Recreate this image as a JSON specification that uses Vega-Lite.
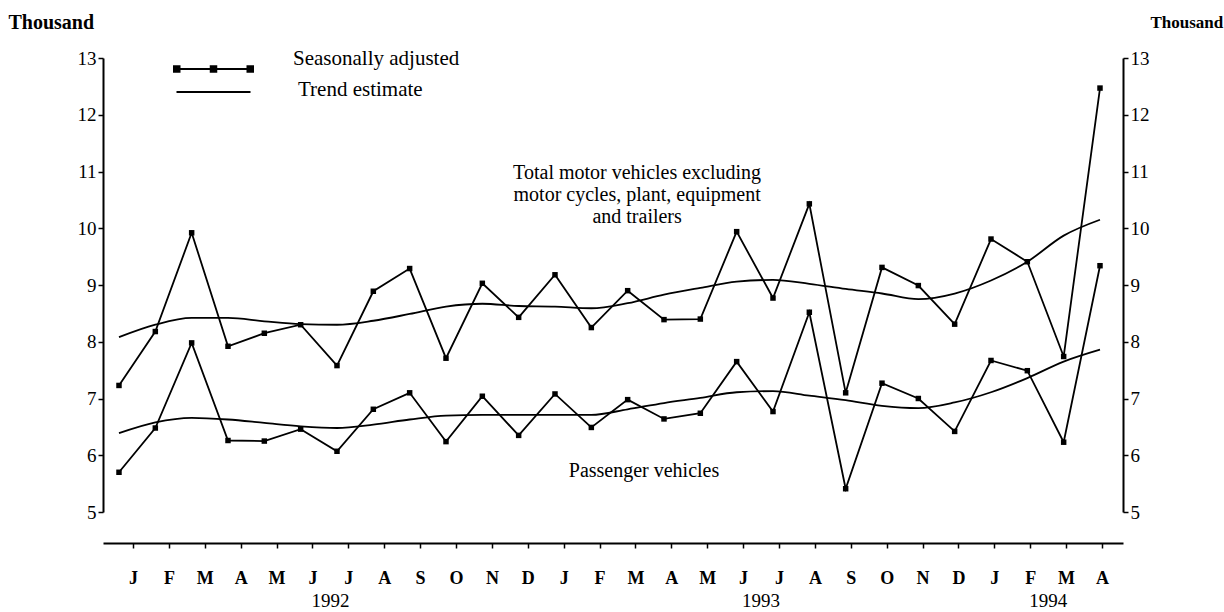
{
  "$schema": "https://vega.github.io/schema/vega-lite/v6.json",
  "width": 1020,
  "height": 454,
  "autosize": {"type": "none"},
  "padding": {"left": 103, "top": 58, "right": 101, "bottom": 100},
  "background": "white",
  "config": {
    "view": {"stroke": null},
    "font": "Liberation Serif",
    "axis": {"domainColor": "black", "tickColor": "black", "labelColor": "black", "titleColor": "black", "grid": false, "labelFont": "Liberation Serif", "titleFont": "Liberation Serif"},
    "legend": {"labelColor": "black", "labelFont": "Liberation Serif"}
  },
  "datasets": {
    "vehicles": [
      {"i":0,"date":"1992-01","series":"Total","measure":"Seasonally adjusted","value":7.23},
      {"i":1,"date":"1992-02","series":"Total","measure":"Seasonally adjusted","value":8.18},
      {"i":2,"date":"1992-03","series":"Total","measure":"Seasonally adjusted","value":9.92},
      {"i":3,"date":"1992-04","series":"Total","measure":"Seasonally adjusted","value":7.92},
      {"i":4,"date":"1992-05","series":"Total","measure":"Seasonally adjusted","value":8.15},
      {"i":5,"date":"1992-06","series":"Total","measure":"Seasonally adjusted","value":8.30},
      {"i":6,"date":"1992-07","series":"Total","measure":"Seasonally adjusted","value":7.58},
      {"i":7,"date":"1992-08","series":"Total","measure":"Seasonally adjusted","value":8.89},
      {"i":8,"date":"1992-09","series":"Total","measure":"Seasonally adjusted","value":9.29},
      {"i":9,"date":"1992-10","series":"Total","measure":"Seasonally adjusted","value":7.71},
      {"i":10,"date":"1992-11","series":"Total","measure":"Seasonally adjusted","value":9.03},
      {"i":11,"date":"1992-12","series":"Total","measure":"Seasonally adjusted","value":8.43},
      {"i":12,"date":"1993-01","series":"Total","measure":"Seasonally adjusted","value":9.18},
      {"i":13,"date":"1993-02","series":"Total","measure":"Seasonally adjusted","value":8.25},
      {"i":14,"date":"1993-03","series":"Total","measure":"Seasonally adjusted","value":8.90},
      {"i":15,"date":"1993-04","series":"Total","measure":"Seasonally adjusted","value":8.39},
      {"i":16,"date":"1993-05","series":"Total","measure":"Seasonally adjusted","value":8.40},
      {"i":17,"date":"1993-06","series":"Total","measure":"Seasonally adjusted","value":9.94},
      {"i":18,"date":"1993-07","series":"Total","measure":"Seasonally adjusted","value":8.77},
      {"i":19,"date":"1993-08","series":"Total","measure":"Seasonally adjusted","value":10.43},
      {"i":20,"date":"1993-09","series":"Total","measure":"Seasonally adjusted","value":7.10},
      {"i":21,"date":"1993-10","series":"Total","measure":"Seasonally adjusted","value":9.31},
      {"i":22,"date":"1993-11","series":"Total","measure":"Seasonally adjusted","value":8.99},
      {"i":23,"date":"1993-12","series":"Total","measure":"Seasonally adjusted","value":8.31},
      {"i":24,"date":"1994-01","series":"Total","measure":"Seasonally adjusted","value":9.81},
      {"i":25,"date":"1994-02","series":"Total","measure":"Seasonally adjusted","value":9.41},
      {"i":26,"date":"1994-03","series":"Total","measure":"Seasonally adjusted","value":7.74},
      {"i":27,"date":"1994-04","series":"Total","measure":"Seasonally adjusted","value":12.47},
      {"i":0,"date":"1992-01","series":"Total","measure":"Trend estimate","value":8.08},
      {"i":1,"date":"1992-02","series":"Total","measure":"Trend estimate","value":8.30},
      {"i":2,"date":"1992-03","series":"Total","measure":"Trend estimate","value":8.42},
      {"i":3,"date":"1992-04","series":"Total","measure":"Trend estimate","value":8.42},
      {"i":4,"date":"1992-05","series":"Total","measure":"Trend estimate","value":8.36},
      {"i":5,"date":"1992-06","series":"Total","measure":"Trend estimate","value":8.31},
      {"i":6,"date":"1992-07","series":"Total","measure":"Trend estimate","value":8.30},
      {"i":7,"date":"1992-08","series":"Total","measure":"Trend estimate","value":8.37},
      {"i":8,"date":"1992-09","series":"Total","measure":"Trend estimate","value":8.49},
      {"i":9,"date":"1992-10","series":"Total","measure":"Trend estimate","value":8.62},
      {"i":10,"date":"1992-11","series":"Total","measure":"Trend estimate","value":8.67},
      {"i":11,"date":"1992-12","series":"Total","measure":"Trend estimate","value":8.63},
      {"i":12,"date":"1993-01","series":"Total","measure":"Trend estimate","value":8.62},
      {"i":13,"date":"1993-02","series":"Total","measure":"Trend estimate","value":8.59},
      {"i":14,"date":"1993-03","series":"Total","measure":"Trend estimate","value":8.68},
      {"i":15,"date":"1993-04","series":"Total","measure":"Trend estimate","value":8.83},
      {"i":16,"date":"1993-05","series":"Total","measure":"Trend estimate","value":8.95},
      {"i":17,"date":"1993-06","series":"Total","measure":"Trend estimate","value":9.06},
      {"i":18,"date":"1993-07","series":"Total","measure":"Trend estimate","value":9.09},
      {"i":19,"date":"1993-08","series":"Total","measure":"Trend estimate","value":9.02},
      {"i":20,"date":"1993-09","series":"Total","measure":"Trend estimate","value":8.93},
      {"i":21,"date":"1993-10","series":"Total","measure":"Trend estimate","value":8.85},
      {"i":22,"date":"1993-11","series":"Total","measure":"Trend estimate","value":8.75},
      {"i":23,"date":"1993-12","series":"Total","measure":"Trend estimate","value":8.85},
      {"i":24,"date":"1994-01","series":"Total","measure":"Trend estimate","value":9.08},
      {"i":25,"date":"1994-02","series":"Total","measure":"Trend estimate","value":9.41},
      {"i":26,"date":"1994-03","series":"Total","measure":"Trend estimate","value":9.87},
      {"i":27,"date":"1994-04","series":"Total","measure":"Trend estimate","value":10.15},
      {"i":0,"date":"1992-01","series":"Passenger","measure":"Seasonally adjusted","value":5.70},
      {"i":1,"date":"1992-02","series":"Passenger","measure":"Seasonally adjusted","value":6.48},
      {"i":2,"date":"1992-03","series":"Passenger","measure":"Seasonally adjusted","value":7.98},
      {"i":3,"date":"1992-04","series":"Passenger","measure":"Seasonally adjusted","value":6.26},
      {"i":4,"date":"1992-05","series":"Passenger","measure":"Seasonally adjusted","value":6.25},
      {"i":5,"date":"1992-06","series":"Passenger","measure":"Seasonally adjusted","value":6.46},
      {"i":6,"date":"1992-07","series":"Passenger","measure":"Seasonally adjusted","value":6.07},
      {"i":7,"date":"1992-08","series":"Passenger","measure":"Seasonally adjusted","value":6.81},
      {"i":8,"date":"1992-09","series":"Passenger","measure":"Seasonally adjusted","value":7.10},
      {"i":9,"date":"1992-10","series":"Passenger","measure":"Seasonally adjusted","value":6.24},
      {"i":10,"date":"1992-11","series":"Passenger","measure":"Seasonally adjusted","value":7.04},
      {"i":11,"date":"1992-12","series":"Passenger","measure":"Seasonally adjusted","value":6.35},
      {"i":12,"date":"1993-01","series":"Passenger","measure":"Seasonally adjusted","value":7.08},
      {"i":13,"date":"1993-02","series":"Passenger","measure":"Seasonally adjusted","value":6.49},
      {"i":14,"date":"1993-03","series":"Passenger","measure":"Seasonally adjusted","value":6.98},
      {"i":15,"date":"1993-04","series":"Passenger","measure":"Seasonally adjusted","value":6.64},
      {"i":16,"date":"1993-05","series":"Passenger","measure":"Seasonally adjusted","value":6.74},
      {"i":17,"date":"1993-06","series":"Passenger","measure":"Seasonally adjusted","value":7.65},
      {"i":18,"date":"1993-07","series":"Passenger","measure":"Seasonally adjusted","value":6.77},
      {"i":19,"date":"1993-08","series":"Passenger","measure":"Seasonally adjusted","value":8.52},
      {"i":20,"date":"1993-09","series":"Passenger","measure":"Seasonally adjusted","value":5.41},
      {"i":21,"date":"1993-10","series":"Passenger","measure":"Seasonally adjusted","value":7.27},
      {"i":22,"date":"1993-11","series":"Passenger","measure":"Seasonally adjusted","value":7.00},
      {"i":23,"date":"1993-12","series":"Passenger","measure":"Seasonally adjusted","value":6.42},
      {"i":24,"date":"1994-01","series":"Passenger","measure":"Seasonally adjusted","value":7.67},
      {"i":25,"date":"1994-02","series":"Passenger","measure":"Seasonally adjusted","value":7.49},
      {"i":26,"date":"1994-03","series":"Passenger","measure":"Seasonally adjusted","value":6.23},
      {"i":27,"date":"1994-04","series":"Passenger","measure":"Seasonally adjusted","value":9.34},
      {"i":0,"date":"1992-01","series":"Passenger","measure":"Trend estimate","value":6.39},
      {"i":1,"date":"1992-02","series":"Passenger","measure":"Trend estimate","value":6.58},
      {"i":2,"date":"1992-03","series":"Passenger","measure":"Trend estimate","value":6.66},
      {"i":3,"date":"1992-04","series":"Passenger","measure":"Trend estimate","value":6.63},
      {"i":4,"date":"1992-05","series":"Passenger","measure":"Trend estimate","value":6.57},
      {"i":5,"date":"1992-06","series":"Passenger","measure":"Trend estimate","value":6.51},
      {"i":6,"date":"1992-07","series":"Passenger","measure":"Trend estimate","value":6.48},
      {"i":7,"date":"1992-08","series":"Passenger","measure":"Trend estimate","value":6.54},
      {"i":8,"date":"1992-09","series":"Passenger","measure":"Trend estimate","value":6.63},
      {"i":9,"date":"1992-10","series":"Passenger","measure":"Trend estimate","value":6.70},
      {"i":10,"date":"1992-11","series":"Passenger","measure":"Trend estimate","value":6.71},
      {"i":11,"date":"1992-12","series":"Passenger","measure":"Trend estimate","value":6.71},
      {"i":12,"date":"1993-01","series":"Passenger","measure":"Trend estimate","value":6.71},
      {"i":13,"date":"1993-02","series":"Passenger","measure":"Trend estimate","value":6.71},
      {"i":14,"date":"1993-03","series":"Passenger","measure":"Trend estimate","value":6.81},
      {"i":15,"date":"1993-04","series":"Passenger","measure":"Trend estimate","value":6.92},
      {"i":16,"date":"1993-05","series":"Passenger","measure":"Trend estimate","value":7.01},
      {"i":17,"date":"1993-06","series":"Passenger","measure":"Trend estimate","value":7.11},
      {"i":18,"date":"1993-07","series":"Passenger","measure":"Trend estimate","value":7.13},
      {"i":19,"date":"1993-08","series":"Passenger","measure":"Trend estimate","value":7.05},
      {"i":20,"date":"1993-09","series":"Passenger","measure":"Trend estimate","value":6.97},
      {"i":21,"date":"1993-10","series":"Passenger","measure":"Trend estimate","value":6.87},
      {"i":22,"date":"1993-11","series":"Passenger","measure":"Trend estimate","value":6.83},
      {"i":23,"date":"1993-12","series":"Passenger","measure":"Trend estimate","value":6.93},
      {"i":24,"date":"1994-01","series":"Passenger","measure":"Trend estimate","value":7.11},
      {"i":25,"date":"1994-02","series":"Passenger","measure":"Trend estimate","value":7.36},
      {"i":26,"date":"1994-03","series":"Passenger","measure":"Trend estimate","value":7.65},
      {"i":27,"date":"1994-04","series":"Passenger","measure":"Trend estimate","value":7.86}
    ]
  },
  "layer": [
    {
      "layer": [
        {
          "data": {"name": "vehicles"},
          "transform": [{"filter": "datum.measure === 'Seasonally adjusted'"}],
          "mark": {"type": "line", "strokeWidth": 1.8, "interpolate": "linear"},
          "encoding": {
            "x": {"field": "i", "type": "quantitative", "scale": {"domain": [-0.44, 27.633], "nice": false, "zero": false}, "axis": null},
            "y": {"field": "value", "type": "quantitative", "scale": {"domain": [5, 13], "nice": false, "zero": false},
                  "axis": {"orient": "left", "values": [5,6,7,8,9,10,11,12,13], "format": "d", "tickSize": 5, "tickWidth": 1.5, "domainWidth": 2, "labelFontSize": 19, "labelPadding": 2,
                           "title": "Thousand", "titleAngle": 0, "titleX": -95, "titleY": -36, "titleAlign": "left", "titleBaseline": "middle", "titleFontSize": 20, "titleFontWeight": "bold"}},
            "detail": {"field": "series"},
            "color": {"field": "measure", "type": "nominal",
                      "scale": {"domain": ["Seasonally adjusted", "Trend estimate"], "range": ["black", "black"]},
                      "legend": {"orient": "none", "legendX": 100, "legendY": 0.5, "title": null, "padding": 0,
                                 "symbolSize": 100, "symbolStrokeWidth": 2, "symbolStrokeColor": "black", "symbolFillColor": "black",
                                 "labelFontSize": 21, "labelOffset": 69, "labelLimit": 0, "rowPadding": 2,
                                 "encode": {
                                   "symbols": {"update": {
                                     "shape": {"signal": "datum.value === 'Seasonally adjusted' ? 'M-7.4,0H7.4M-7.9,-0.55h1.1v1.1h-1.1zM-0.55,-0.55h1.1v1.1h-1.1zM6.8,-0.55h1.1v1.1h-1.1z' : 'M-7.4,0H7.4'"},
                                     "fill": {"value": "black"}, "stroke": {"value": "black"}, "strokeWidth": {"value": 2}, "opacity": {"value": 1}}},
                                   "labels": {"update": {
                                     "dy": {"signal": "datum.value === 'Seasonally adjusted' ? -10 : -2"},
                                     "dx": {"signal": "datum.value === 'Trend estimate' ? 5 : 0"}}}
                                 }}}
          }
        },
        {
          "data": {"name": "vehicles"},
          "transform": [{"filter": "datum.measure === 'Trend estimate'"}],
          "mark": {"type": "line", "strokeWidth": 1.8, "interpolate": "monotone"},
          "encoding": {
            "x": {"field": "i", "type": "quantitative"},
            "y": {"field": "value", "type": "quantitative"},
            "detail": {"field": "series"},
            "color": {"field": "measure", "type": "nominal"}
          }
        },
        {
          "data": {"name": "vehicles"},
          "transform": [{"filter": "datum.measure === 'Seasonally adjusted'"}],
          "mark": {"type": "square", "size": 30, "color": "black", "filled": true, "opacity": 1},
          "encoding": {
            "x": {"field": "i", "type": "quantitative"},
            "y": {"field": "value", "type": "quantitative"}
          }
        },
        {
          "data": {"values": [{}]},
          "mark": {"type": "text", "text": ["Total motor vehicles excluding", "motor cycles, plant, equipment", "and trailers"], "align": "center", "baseline": "alphabetic", "lineHeight": 22, "fontSize": 20, "font": "Liberation Serif", "color": "black"},
          "encoding": {
            "x": {"datum": 14.26, "type": "quantitative"},
            "y": {"datum": 10.87, "type": "quantitative"}
          }
        },
        {
          "data": {"values": [{}]},
          "mark": {"type": "text", "text": "Passenger vehicles", "align": "center", "baseline": "alphabetic", "fontSize": 20, "font": "Liberation Serif", "color": "black"},
          "encoding": {
            "x": {"datum": 14.45, "type": "quantitative"},
            "y": {"datum": 5.61, "type": "quantitative"}
          }
        }
      ]
    },
    {
      "data": {"values": [{"year": "1992", "mid": 5.5}, {"year": "1993", "mid": 17.5}, {"year": "1994", "mid": 25.5}]},
      "mark": {"type": "text", "fontSize": 19, "baseline": "alphabetic", "align": "center", "font": "Liberation Serif", "color": "black"},
      "encoding": {
        "x": {"field": "mid", "type": "quantitative", "scale": {"domain": [-0.836, 27.585], "nice": false, "zero": false},
              "axis": {"orient": "bottom", "offset": 31, "values": [0,1,2,3,4,5,6,7,8,9,10,11,12,13,14,15,16,17,18,19,20,21,22,23,24,25,26,27],
                       "labelExpr": "['J','F','M','A','M','J','J','A','S','O','N','D','J','F','M','A','M','J','J','A','S','O','N','D','J','F','M','A'][datum.value]",
                       "tickSize": 5, "tickWidth": 1.5, "domainWidth": 2, "labelFontSize": 18, "labelFontWeight": "bold", "labelPadding": 21,
                       "title": null, "labelFlush": false, "labelOverlap": false}},
        "y": {"datum": 3.33, "type": "quantitative", "scale": {"domain": [5, 13], "nice": false, "zero": false},
              "axis": {"orient": "right", "values": [5,6,7,8,9,10,11,12,13], "format": "d", "tickSize": 5, "tickWidth": 1.5, "domainWidth": 2, "labelFontSize": 19, "labelPadding": 2,
                       "title": "Thousand", "titleAngle": 0, "titleX": 27, "titleY": -36, "titleAlign": "left", "titleBaseline": "middle", "titleFontSize": 17, "titleFontWeight": "bold"}},
        "text": {"field": "year"}
      }
    }
  ],
  "resolve": {"scale": {"x": "independent"}, "axis": {"y": "independent"}}
}
